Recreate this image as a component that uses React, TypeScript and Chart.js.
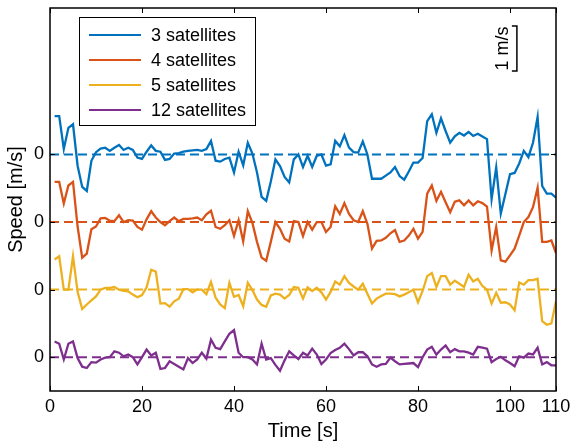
import React, { useEffect, useRef } from "react";
import { Chart, registerables } from "chart.js";

Chart.register(...registerables);

const TIME = [
  1, 2, 3, 4, 5, 6, 7, 8, 9, 10, 11, 12, 13, 14, 15, 16, 17, 18, 19, 20,
  21, 22, 23, 24, 25, 26, 27, 28, 29, 30, 31, 32, 33, 34, 35, 36, 37, 38, 39, 40,
  41, 42, 43, 44, 45, 46, 47, 48, 49, 50, 51, 52, 53, 54, 55, 56, 57, 58, 59, 60,
  61, 62, 63, 64, 65, 66, 67, 68, 69, 70, 71, 72, 73, 74, 75, 76, 77, 78, 79, 80,
  81, 82, 83, 84, 85, 86, 87, 88, 89, 90, 91, 92, 93, 94, 95, 96, 97, 98, 99, 100,
  101, 102, 103, 104, 105, 106, 107, 108, 109, 110,
];

const SAT3 = [
  0.85, 0.85, 0.12, 0.59, 0.67, -0.25, -0.72, -0.81, -0.14, 0.05,
  0.13, 0.15, 0.08, 0.15, 0.21, 0.1, 0.15, 0.1, -0.07, -0.1,
  0.06, 0.2, 0.08, 0.06, -0.12, -0.1, 0.02, 0.03, 0.06, 0.08,
  0.09, 0.1, 0.08, 0.12, 0.3, -0.14, -0.16, -0.1, -0.07, -0.4,
  0.06, -0.24, 0.26, 0.02, -0.4, -0.94, -1.03, -0.6, -0.11, -0.26,
  -0.5, -0.62, -0.11, 0.0, -0.28, -0.03, -0.28, -0.03, 0.0, -0.25,
  -0.22, 0.3, 0.18, 0.43, 0.15, 0.05, 0.04, 0.29, 0.0, -0.54,
  -0.54, -0.54, -0.47, -0.4, -0.28, -0.48, -0.56, -0.38, -0.18, -0.18,
  -0.08, 0.74, 0.89, 0.48, 0.8, 0.52, 0.26, 0.4, 0.48, 0.42,
  0.5, 0.41, 0.46, 0.4, 0.34, -0.99, -0.29, -1.31, -0.88, -0.44,
  -0.41, -0.2, 0.08, -0.06, 0.26, 0.83, -0.7, -0.87, -0.87, -0.96,
];

const SAT4 = [
  0.89, 0.89, 0.41, 0.81, 0.89, -0.1, -0.79, -0.7, -0.16, -0.1,
  0.08, 0.09, 0.03, 0.02, 0.15, 0.0, 0.04, 0.03, -0.11, -0.17,
  0.06, 0.24, 0.1, 0.0, -0.07, 0.02, 0.1, 0.02, 0.07, 0.07,
  0.08, 0.1, 0.04, 0.17, 0.25, -0.11, -0.15, -0.07, 0.04, -0.31,
  0.04, -0.43, 0.24, -0.02, -0.44, -0.79, -0.86, -0.44, 0.0, -0.15,
  -0.37, -0.43, 0.02, 0.0, -0.31, 0.0, -0.17, 0.0, 0.0, -0.22,
  -0.11, 0.35, 0.18, 0.42, 0.18, 0.04, 0.0, 0.24, -0.04, -0.59,
  -0.42, -0.41, -0.35, -0.25, -0.18, -0.44, -0.41, -0.3, -0.15, -0.37,
  -0.22, 0.63, 0.81, 0.47, 0.67, 0.44, 0.22, 0.45, 0.48, 0.37,
  0.48, 0.37, 0.46, 0.42, 0.34, -0.63, -0.11, -0.85, -0.88, -0.74,
  -0.59, -0.3, 0.0, 0.11, 0.33, 0.76, -0.44, -0.44, -0.41, -0.69,
];

const SAT5 = [
  0.67, 0.74, 0.0, 0.0, 0.74, -0.05, -0.43, -0.33, -0.24, -0.15,
  0.0, 0.04, 0.04, 0.06, 0.0, -0.03, -0.04, -0.11, -0.17, -0.12,
  0.05, 0.44, 0.4, -0.31, -0.3, -0.38, -0.26, -0.2, 0.01, 0.01,
  -0.06, 0.0, 0.0, -0.1, 0.17, -0.18, -0.33, -0.41, 0.15, -0.16,
  -0.12, -0.37, 0.15, -0.01, -0.22, -0.34, -0.38, -0.13, -0.09, -0.11,
  -0.2, -0.12, 0.06, 0.04, -0.2, 0.05, -0.03, 0.04, -0.06, -0.22,
  -0.05, 0.18, 0.11, 0.3, 0.15, 0.07, 0.0, 0.13, -0.09, -0.31,
  -0.2, -0.14, -0.09, -0.09, -0.1, -0.15, -0.11, -0.06, 0.0, -0.28,
  -0.03, 0.3, 0.37, 0.06, 0.3, 0.3, 0.11, 0.2, 0.13, 0.06,
  0.33, 0.18, 0.24, 0.08, 0.0, -0.31, -0.07, -0.29, -0.28, -0.33,
  -0.46, 0.16, 0.11, 0.21, 0.21, 0.24, -0.7, -0.78, -0.75, -0.26,
];

const SAT12 = [
  0.35, 0.3, -0.05, 0.3, 0.35, -0.02, -0.21, -0.24, -0.11, -0.12,
  -0.05, -0.01, 0.0, 0.13, 0.1, 0.02, 0.06, 0.0, -0.16, 0.0,
  0.17, 0.04, 0.1, -0.26, -0.24, -0.09, -0.15, -0.21, -0.27, -0.02,
  -0.13, -0.05, 0.1, -0.03, 0.39, 0.21, 0.18, 0.35, 0.52, 0.6,
  0.1, 0.0, 0.0, -0.05, -0.16, 0.3, -0.05, -0.02, -0.17, -0.3,
  -0.07, 0.13, 0.04, -0.04, 0.1, 0.04, 0.19, 0.06, -0.15, -0.05,
  0.09, 0.16, 0.21, 0.3, 0.18, 0.04, 0.11, 0.11, 0.02, -0.16,
  -0.21, -0.16, -0.15, -0.01, -0.09, -0.16, -0.15, -0.14, -0.13, -0.22,
  0.0, 0.17, 0.23, 0.06, 0.17, 0.26, 0.11, 0.18, 0.13, 0.13,
  0.1, 0.06, 0.23, 0.21, 0.19, -0.11, -0.04, 0.01, -0.07, -0.13,
  -0.2, 0.02, -0.01, 0.08, 0.06, 0.21, -0.16, -0.11, -0.18, -0.18,
];

const LABELS = ["3 satellites", "4 satellites", "5 satellites", "12 satellites"];
const SERIES = [SAT3, SAT4, SAT5, SAT12];
const OFFSETS = [4.5, 3, 1.5, 0];
const COLORS = ["#0072BD", "#D95319", "#EDB120", "#7E2F8E"];
const X_TICKS = [0, 20, 40, 60, 80, 100, 110];
const Y_TICK_LABEL = "0";
const SCALE_BAR_LABEL = "1 m/s";
const SCALE_BAR_LENGTH = 1;

const FONT = "'Liberation Sans', Arial, Helvetica, sans-serif";

const overlayPlugin = {
  id: "overlay",
  afterDatasetsDraw(chart: any) {
    const { ctx, chartArea: a, scales } = chart;
    const xs = scales.x;
    const ys = scales.y;
    ctx.save();
    // frame
    ctx.strokeStyle = "#000";
    ctx.lineWidth = 1.5;
    ctx.strokeRect(a.left, a.top, a.right - a.left, a.bottom - a.top);
    // inward ticks
    const tl = 5;
    ctx.lineWidth = 1;
    ctx.beginPath();
    X_TICKS.forEach((v) => {
      const px = Math.round(xs.getPixelForValue(v)) + 0.5;
      ctx.moveTo(px, a.bottom);
      ctx.lineTo(px, a.bottom - tl);
      ctx.moveTo(px, a.top);
      ctx.lineTo(px, a.top + tl);
    });
    OFFSETS.forEach((v) => {
      const py = Math.round(ys.getPixelForValue(v)) + 0.5;
      ctx.moveTo(a.left, py);
      ctx.lineTo(a.left + tl, py);
      ctx.moveTo(a.right, py);
      ctx.lineTo(a.right - tl, py);
    });
    ctx.stroke();

    // legend
    const lx = a.left + 29;
    const ly = a.top + 9;
    const lw = 176;
    const lh = 108;
    ctx.fillStyle = "#fff";
    ctx.fillRect(lx, ly, lw, lh);
    ctx.lineWidth = 1;
    ctx.strokeStyle = "#000";
    ctx.strokeRect(lx + 0.5, ly + 0.5, lw, lh);
    ctx.font = `18px ${FONT}`;
    ctx.textBaseline = "middle";
    ctx.textAlign = "left";
    chart.data.datasets.slice(0, LABELS.length).forEach((ds: any, i: number) => {
      const ry = ly + 18 + i * 25;
      ctx.strokeStyle = ds.borderColor;
      ctx.lineWidth = 2.2;
      ctx.beginPath();
      ctx.moveTo(lx + 10, ry);
      ctx.lineTo(lx + 62, ry);
      ctx.stroke();
      ctx.fillStyle = "#000";
      ctx.fillText(ds.label, lx + 72, ry + 1);
    });

    // scale bar
    const sx = xs.getPixelForValue(101.5);
    const yTop = ys.getPixelForValue(6.35 + SCALE_BAR_LENGTH);
    const yBot = ys.getPixelForValue(6.35);
    ctx.strokeStyle = "#000";
    ctx.lineWidth = 1.5;
    ctx.beginPath();
    ctx.moveTo(sx - 5, yTop);
    ctx.lineTo(sx, yTop);
    ctx.lineTo(sx, yBot);
    ctx.lineTo(sx - 5, yBot);
    ctx.stroke();
    ctx.save();
    ctx.translate(sx - 14, (yTop + yBot) / 2);
    ctx.rotate(-Math.PI / 2);
    ctx.textAlign = "center";
    ctx.textBaseline = "middle";
    ctx.fillStyle = "#000";
    ctx.font = `18px ${FONT}`;
    ctx.fillText(SCALE_BAR_LABEL, 0, 0);
    ctx.restore();

    ctx.restore();
  },
};

export default function App() {
  const ref = useRef<HTMLCanvasElement | null>(null);

  useEffect(() => {
    if (!ref.current) return;
    const seriesSets = SERIES.map((vals, i) => ({
      label: LABELS[i],
      data: vals.map((v, k) => ({ x: TIME[k], y: v + OFFSETS[i] })),
      borderColor: COLORS[i],
      backgroundColor: COLORS[i],
      borderWidth: 2.3,
      pointRadius: 0,
      tension: 0,
      fill: false,
    }));
    const zeroSets = OFFSETS.map((off, i) => ({
      label: "zero " + LABELS[i],
      data: [
        { x: 0, y: off },
        { x: 110, y: off },
      ],
      borderColor: COLORS[i],
      borderWidth: 2,
      borderDash: [9, 5],
      pointRadius: 0,
      fill: false,
    }));

    const chart = new Chart(ref.current, {
      type: "line",
      data: { datasets: [...seriesSets, ...zeroSets] as any },
      options: {
        animation: false,
        responsive: false,
        maintainAspectRatio: false,
        layout: { padding: { left: 0, top: 8, right: 18, bottom: 0 } },
        plugins: {
          legend: { display: false },
          tooltip: { enabled: false },
        },
        scales: {
          x: {
            type: "linear",
            min: 0,
            max: 110,
            afterFit: (s: any) => {
              s.height = 50;
              s.paddingLeft = 0;
              s.paddingRight = 0;
            },
            afterBuildTicks: (s: any) => {
              s.ticks = X_TICKS.map((v) => ({ value: v }));
            },
            grid: { display: false, drawTicks: false },
            border: { display: false },
            ticks: {
              color: "#000",
              font: { family: FONT, size: 18 },
              padding: 5,
              maxRotation: 0,
              autoSkip: false,
            },
            title: {
              display: true,
              text: "Time [s]",
              color: "#000",
              font: { family: FONT, size: 20 },
              padding: { top: 0, bottom: -2 },
            },
          },
          y: {
            type: "linear",
            min: -0.75,
            max: 7.75,
            afterFit: (s: any) => {
              s.width = 50;
              s.paddingTop = 0;
              s.paddingBottom = 0;
            },
            afterBuildTicks: (s: any) => {
              s.ticks = [...OFFSETS].reverse().map((v) => ({ value: v }));
            },
            grid: { display: false, drawTicks: false },
            border: { display: false },
            ticks: {
              color: "#000",
              font: { family: FONT, size: 18 },
              padding: 6,
              callback: () => Y_TICK_LABEL,
            },
            title: {
              display: true,
              text: "Speed [m/s]",
              color: "#000",
              font: { family: FONT, size: 20 },
              padding: { top: 4, bottom: 0 },
            },
          },
        },
      },
      plugins: [overlayPlugin],
    });
    return () => chart.destroy();
  }, []);

  return (
    <div style={{ position: "absolute", left: 0, top: 0, width: 574, height: 441, background: "#fff" }}>
      <canvas ref={ref} width={574} height={441} style={{ width: 574, height: 441, display: "block" }} />
    </div>
  );
}
